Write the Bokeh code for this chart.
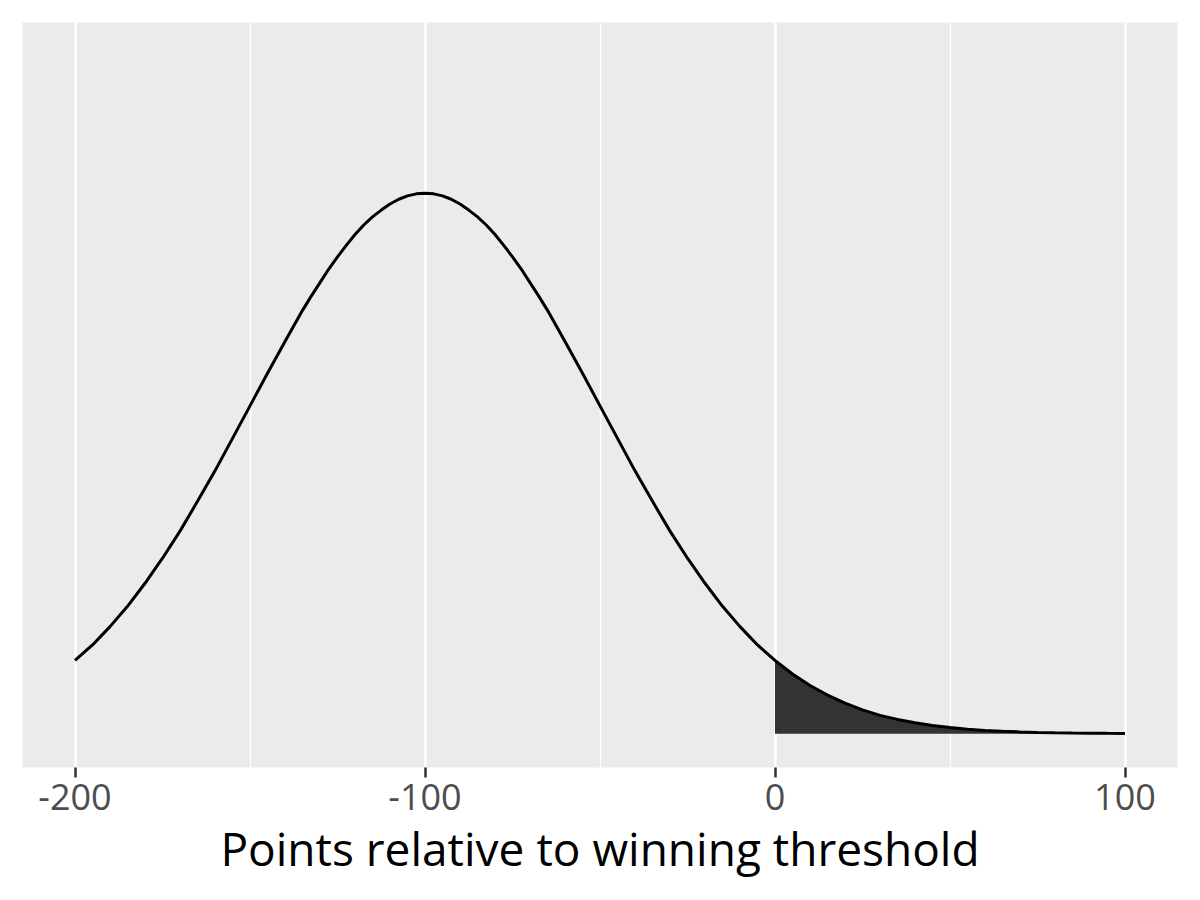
from bokeh.plotting import figure
from bokeh.models import FixedTicker, Range1d
from bokeh.embed import file_html
from bokeh.resources import INLINE

# Points relative to winning threshold (denser read-off near the peak)
points = [-200, -195, -190, -185, -180, -175, -170, -165, -160, -155,
          -150, -145, -140, -135, -132.5, -130, -127.5, -125, -122.5, -120,
          -117.5, -115, -112.5, -110, -107.5, -105, -102.5, -100, -97.5, -95,
          -92.5, -90, -87.5, -85, -82.5, -80, -77.5, -75, -72.5, -70,
          -67.5, -65, -60, -55,
          -50, -45, -40, -35, -30, -25, -20, -15, -10, -5,
          0, 5, 10, 15, 20, 25, 30, 35, 40, 45,
          50, 55, 60, 65, 70, 75, 80, 85, 90, 95, 100]
# Density (x 1/1000)
density = [1.08, 1.31, 1.58, 1.88, 2.22, 2.59, 2.99, 3.43, 3.88, 4.36,
           4.84, 5.32, 5.79, 6.25, 6.46, 6.66, 6.86, 7.04, 7.21, 7.37,
           7.51, 7.63, 7.73, 7.82, 7.89, 7.94, 7.97, 7.98, 7.97, 7.94,
           7.89, 7.82, 7.73, 7.63, 7.51, 7.37, 7.21, 7.04, 6.86, 6.66,
           6.46, 6.25, 5.79, 5.32,
           4.84, 4.36, 3.88, 3.43, 2.99, 2.59, 2.22, 1.88, 1.58, 1.31,
           1.08, 0.88, 0.71, 0.57, 0.45, 0.35, 0.27, 0.21, 0.16, 0.12,
           0.09, 0.065, 0.048, 0.034, 0.025, 0.017, 0.012, 0.0085, 0.0058, 0.004, 0.0027]
threshold = 0
major_ticks = [-200, -100, 0, 100]
tick_labels = ["-200", "-100", "0", "100"]
minor_ticks = [-150, -50, 50]
x_title = "Points relative to winning threshold"

FONT = "Open Sans"

p = figure(frame_width=1155, frame_height=745,
           x_range=Range1d(-215, 115), y_range=Range1d(-0.5, 10.5),
           output_backend="svg", toolbar_location=None,
           y_axis_location=None,
           min_border_left=22, min_border_top=22, min_border_right=15,
           min_border_bottom=10)

p.background_fill_color = "#EBEBEB"
p.border_fill_color = "white"
p.outline_line_color = None

# shaded tail
sx = [x for x in points if x >= threshold]
sy = [d for x, d in zip(points, density) if x >= threshold]
p.varea(x=sx, y1=[0] * len(sx), y2=sy, fill_color="#333333")

p.line(points, density, line_color="black", line_width=3)

ax = p.xaxis[0]
ax.ticker = FixedTicker(ticks=major_ticks, minor_ticks=minor_ticks)
ax.major_label_overrides = {t: l for t, l in zip(major_ticks, tick_labels)}
ax.axis_line_color = None
ax.major_tick_line_color = "#333333"
ax.major_tick_line_width = 2.5
ax.major_tick_out = 10
ax.major_tick_in = 0
ax.minor_tick_line_color = None
ax.major_label_text_font = FONT
ax.major_label_text_font_size = "36px"
ax.major_label_text_color = "#4D4D4D"
ax.major_label_standoff = 6
ax.axis_label = x_title
ax.axis_label_text_font = FONT
ax.axis_label_text_font_size = "46px"
ax.axis_label_text_font_style = "normal"
ax.axis_label_text_color = "black"
ax.axis_label_standoff = 4

p.xgrid.grid_line_color = "white"
p.xgrid.grid_line_width = 2.5
p.xgrid.minor_grid_line_color = "white"
p.xgrid.minor_grid_line_width = 1.3
p.ygrid.grid_line_color = None

open("out.html", "w").write(file_html(p, INLINE))
